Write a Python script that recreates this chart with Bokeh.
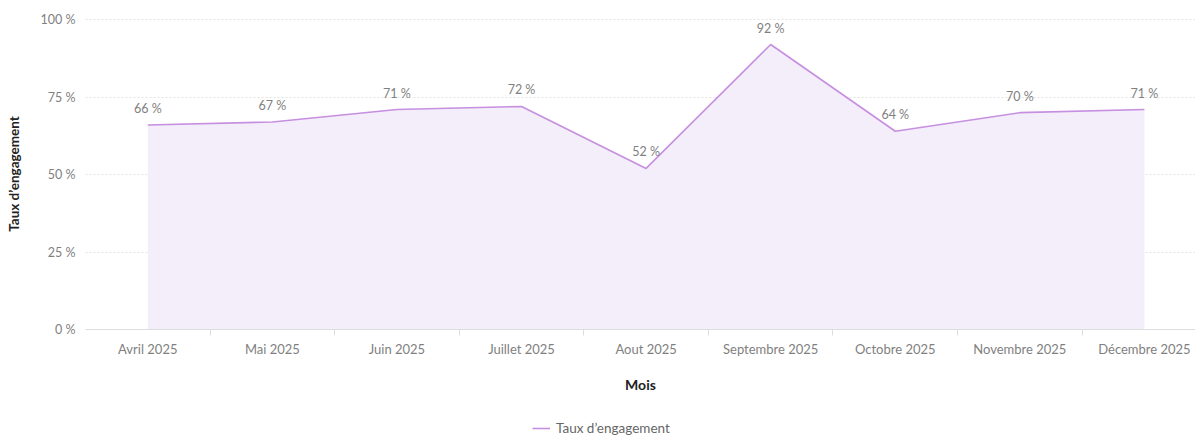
from bokeh.plotting import figure
from bokeh.layouts import column
from bokeh.models import (Range1d, FixedTicker, Legend, LegendItem, ColumnDataSource,
                          CustomJSTickFormatter)
from bokeh.embed import file_html
from bokeh.resources import INLINE
from bokeh.core.properties import value

months = ["Avril 2025", "Mai 2025", "Juin 2025", "Juillet 2025", "Aout 2025",
          "Septembre 2025", "Octobre 2025", "Novembre 2025", "Décembre 2025"]
engagement = [66, 67, 71, 72, 52, 92, 64, 70, 71]
y_ticks = [0, 25, 50, 75, 100]
series_name = "Taux d’engagement"

FONT = "Lato"
LINE = "#c68fe0"
FILL = "#f4eefb"
GREY = "#7f7f7f"

xs = list(range(len(months)))
src = ColumnDataSource(dict(x=xs, y=engagement, zero=[0] * len(xs),
                            lab=[f"{v} %" for v in engagement]))

W, H, LH = 1195, 437, 24
p = figure(width=W, height=H - LH, output_backend="svg", toolbar_location=None,
           x_range=Range1d(-0.5, 8.41), y_range=Range1d(0, 100.4),
           min_border_left=85, min_border_right=0, min_border_top=18,
           min_border_bottom=H - LH - 329)
p.outline_line_color = None

p.varea(x="x", y1="zero", y2="y", source=src, fill_color=FILL, fill_alpha=1)
p.line(x="x", y="y", source=src, line_color=LINE, line_width=1.6)
p.text(x="x", y="y", text="lab", source=src, text_align="center", text_baseline="bottom",
       y_offset=-9, text_color=GREY, text_font=value(FONT), text_font_size="12.5px")

# x axis
xa = p.xaxis[0]
xa.ticker = FixedTicker(ticks=xs, minor_ticks=[i + 0.5 for i in range(len(months) - 1)])
xa.major_label_overrides = {i: m for i, m in enumerate(months)}
xa.major_tick_line_color = None
xa.major_tick_out = 0
xa.minor_tick_line_color = "#dddddd"
xa.minor_tick_out = 6
xa.minor_tick_in = 0
xa.axis_line_color = "#dddddd"
xa.major_label_text_color = GREY
xa.major_label_text_font = FONT
xa.major_label_text_font_size = "13px"
xa.major_label_standoff = 5
xa.axis_label = "Mois"
xa.axis_label_text_font = FONT
xa.axis_label_text_font_style = "bold"
xa.axis_label_text_font_size = "14px"
xa.axis_label_text_color = "#222222"
xa.axis_label_standoff = 16

# y axis
ya = p.yaxis[0]
ya.ticker = FixedTicker(ticks=y_ticks)
ya.formatter = CustomJSTickFormatter(code="return tick + ' %';")
ya.axis_line_color = None
ya.major_tick_line_color = None
ya.minor_tick_line_color = None
ya.major_tick_out = 0
ya.minor_tick_out = 0
ya.major_label_text_color = GREY
ya.major_label_text_font = FONT
ya.major_label_text_font_size = "12.5px"
ya.major_label_standoff = 10
ya.axis_label = series_name
ya.axis_label_text_font = FONT
ya.axis_label_text_font_style = "bold"
ya.axis_label_text_font_size = "13.5px"
ya.axis_label_text_color = "#222222"
ya.axis_label_standoff = 16

p.xgrid.grid_line_color = None
p.ygrid.ticker = FixedTicker(ticks=y_ticks[1:])
p.ygrid.grid_line_color = "#e2e2e2"
p.ygrid.grid_line_dash = "2 2"

# legend strip (separate small figure so the legend is not clipped)
lg = figure(width=W, height=LH, output_backend="svg", toolbar_location=None,
            x_range=Range1d(0, 1), y_range=Range1d(1000, 1001),
            min_border=0, min_border_left=0, min_border_right=0,
            min_border_top=0, min_border_bottom=0)
lg.axis.visible = False
lg.grid.visible = False
lg.outline_line_color = None
leg_line = lg.line(x="x", y="y", source=src, line_color=LINE, line_width=1.6)
legend = Legend(items=[LegendItem(label=series_name, renderers=[leg_line])],
                orientation="horizontal", location=(447, 1),
                label_text_font=FONT, label_text_font_size="13.5px", label_text_color="#666666",
                border_line_color=None, background_fill_alpha=0,
                glyph_width=18, glyph_height=14, label_height=14, label_standoff=6,
                margin=0, padding=1)
lg.add_layout(legend, "center")

layout = column(p, lg, spacing=0)
open("out.html", "w").write(file_html(layout, INLINE))
